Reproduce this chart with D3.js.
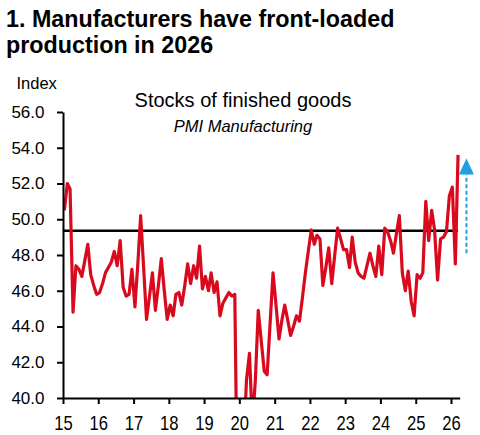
<!DOCTYPE html>
<html>
<head>
<meta charset="utf-8">
<script src="https://cdn.jsdelivr.net/npm/d3@7"></script>
<style>
  body { margin: 0; background: #fff; }
  svg { font-family: "Liberation Sans", Arial, sans-serif; }
</style>
</head>
<body>
<svg id="chart"></svg>
<script>
// PMI manufacturing, stocks of finished goods, monthly from Jan 2015
const startYear = 2015;
const stocksFinishedGoods = [
  50.5, 52.0, 51.7, 44.8, 47.4, 47.2, 46.8, 47.7, 48.6, 46.9, 46.3, 45.8,   // 2015
  45.9, 46.4, 47.0, 47.3, 47.6, 48.2, 47.4, 48.8, 46.2, 45.7, 45.8, 47.2,   // 2016
  45.1, 47.6, 50.2, 47.3, 44.4, 45.7, 47.0, 44.9, 46.3, 47.8, 46.0, 44.4,   // 2017
  45.2, 44.6, 45.8, 45.9, 45.2, 46.3, 47.5, 46.4, 47.4, 46.7, 48.5, 46.1,   // 2018
  46.8, 46.0, 47.0, 45.9, 46.5, 44.6, 45.3, 45.6, 45.9, 45.7, 45.8, 33.0,   // 2019
  35.0, 37.5, 41.0, 42.5, 38.5, 41.0, 44.9, 43.2, 41.5, 41.3, 44.2, 47.0,   // 2020
  45.2, 43.3, 44.3, 45.2, 44.4, 43.5, 44.0, 44.6, 44.3, 45.6, 47.0, 48.2,   // 2021
  49.4, 48.6, 49.1, 48.9, 46.3, 47.3, 48.4, 46.4, 48.0, 49.5, 48.9, 48.3,   // 2022
  48.3, 47.3, 49.0, 47.6, 47.0, 46.8, 46.7, 47.4, 48.1, 47.4, 46.8, 48.5,   // 2023
  46.9, 49.5, 49.3, 48.8, 48.1, 49.2, 50.2, 47.0, 46.0, 47.1, 45.4, 44.6,   // 2024
  46.9, 46.7, 47.0, 51.0, 48.8, 50.5, 49.4, 46.6, 48.9, 49.0, 49.3, 51.3,   // 2025
  51.8, 47.5, 53.6                                                          // 2026
];
const yTicks = [40, 42, 44, 46, 48, 50, 52, 54, 56];
const tickYears = [2015, 2016, 2017, 2018, 2019, 2020, 2021, 2022, 2023, 2024, 2025, 2026];
const referenceLevel = 49.35;
const arrowRange = [48.1, 52.5, 53.4]; // dashed start, dashed end, arrow tip

const titleLines = ["1. Manufacturers have front-loaded", "production in 2026"];
const chartTitle = "Stocks of finished goods";
const chartSubtitle = "PMI Manufacturing";
const unitLabel = "Index";

class StocksChart {
    margin = {
        top: 112, right: 20, bottom: 37, left: 63
    }

    constructor(svg, data, width = 480, height = 435) {
        this.svg = svg;
        this.data = data;
        this.width = width;
        this.height = height;
    }

    initialize() {
        this.svg = d3.select(this.svg)
            .attr("width", this.width)
            .attr("height", this.height);

        this.plotH = this.height - this.margin.top - this.margin.bottom;

        // 11 years between the "15" and "26" ticks take 388px, axis runs on to April 2026
        const d0 = new Date(startYear, 0, 1);
        const d26 = new Date(2026, 0, 1);
        const dEnd = new Date(2026, 3, 1);
        this.plotW = 388 * d3.timeDay.count(d0, dEnd) / d3.timeDay.count(d0, d26);

        this.xScale = d3.scaleTime().domain([d0, dEnd]).range([0, this.plotW]);
        this.yScale = d3.scaleLinear().domain([40, 56]).range([this.plotH, 0]);

        this.svg.append("defs").append("clipPath")
            .attr("id", "plot-clip")
            .append("rect")
            .attr("x", 0).attr("y", -10)
            .attr("width", this.plotW + 10).attr("height", this.plotH + 10);

        this.container = this.svg.append("g")
            .attr("transform", `translate(${this.margin.left}, ${this.margin.top})`);
    }

    update() {
        const x = this.xScale, y = this.yScale;
        const first = this.data[0].date, last = this.data[this.data.length - 1].date;

        // titles
        this.svg.selectAll("text.title")
            .data(titleLines)
            .join("text")
            .attr("class", "title")
            .attr("x", 6)
            .attr("y", (d, i) => 26.5 + i * 26.8)
            .attr("font-size", 23.3)
            .attr("font-weight", "bold")
            .attr("fill", "#000")
            .text(d => d);

        this.svg.append("text")
            .attr("x", 16.5).attr("y", 89)
            .attr("font-size", 16.5)
            .text(unitLabel);

        this.svg.append("text")
            .attr("x", 243).attr("y", 106.5)
            .attr("text-anchor", "middle")
            .attr("font-size", 20)
            .text(chartTitle);

        this.svg.append("text")
            .attr("x", 243).attr("y", 131.5)
            .attr("text-anchor", "middle")
            .attr("font-size", 16.5)
            .attr("font-style", "italic")
            .text(chartSubtitle);

        // reference level
        this.container.append("line")
            .attr("x1", x(first) - 1.5).attr("x2", x(last))
            .attr("y1", y(referenceLevel)).attr("y2", y(referenceLevel))
            .attr("stroke", "#000")
            .attr("stroke-width", 2.5);

        // series
        const line = d3.line()
            .x(d => x(d.date))
            .y(d => y(d.value));

        this.container.append("path")
            .datum(this.data)
            .attr("clip-path", "url(#plot-clip)")
            .attr("fill", "none")
            .attr("stroke", "#da0a1e")
            .attr("stroke-width", 3.2)
            .attr("stroke-linejoin", "round")
            .attr("d", line);

        // arrow annotation
        const ax = x(new Date(2026, 5, 10));
        this.container.append("line")
            .attr("x1", ax).attr("x2", ax)
            .attr("y1", y(arrowRange[0])).attr("y2", y(arrowRange[1]))
            .attr("stroke", "#1ea0e1")
            .attr("stroke-width", 2)
            .attr("stroke-dasharray", "4,2.5");
        this.container.append("path")
            .attr("d", `M${ax},${y(arrowRange[2])}L${ax + 7.5},${y(arrowRange[1])}L${ax - 7.5},${y(arrowRange[1])}Z`)
            .attr("fill", "#1ea0e1");

        // axes
        this.yAxis = this.container.append("g")
            .call(d3.axisLeft(y)
                .tickValues(yTicks)
                .tickFormat(d3.format(".1f"))
                .tickSize(6)
                .tickSizeOuter(0)
                .tickPadding(12.5));

        this.xAxis = this.container.append("g")
            .attr("transform", `translate(0, ${this.plotH})`)
            .call(d3.axisBottom(x)
                .tickValues(tickYears.map(yr => new Date(yr, 0, 1)))
                .tickFormat(d3.timeFormat("%y"))
                .tickSize(6)
                .tickSizeOuter(0)
                .tickPadding(12));

        this.svg.selectAll(".domain, .tick line")
            .attr("stroke", "#000")
            .attr("stroke-width", 2);

        this.yAxis.selectAll("text")
            .attr("font-size", 17)
            .attr("font-family", "Liberation Sans, Arial, sans-serif")
            .attr("fill", "#000");

        this.xAxis.selectAll("text")
            .attr("font-size", 20)
            .attr("font-family", "Liberation Sans, Arial, sans-serif")
            .attr("fill", "#000")
            .attr("transform", "scale(0.83, 1)");
    }
}

const data = stocksFinishedGoods.map((v, i) => ({ date: new Date(startYear, i, 15), value: v }));

const chart = new StocksChart(document.getElementById("chart"), data);
chart.initialize();
chart.update();
</script>
</body>
</html>
